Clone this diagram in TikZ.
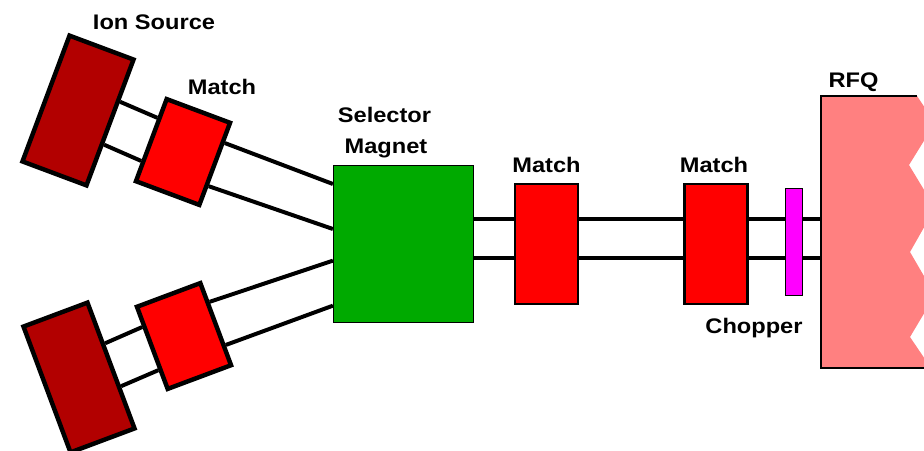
\documentclass[tikz,border=0pt]{standalone}
\usepackage{fontspec}
\setmainfont{Liberation Sans}[FakeStretch=1.12]
\usepackage{tikz}
\usetikzlibrary{calc}

\definecolor{srcred}{RGB}{178,0,0}
\definecolor{matchred}{RGB}{255,0,0}
\definecolor{selgreen}{RGB}{0,170,0}
\definecolor{chopmag}{RGB}{255,0,255}
\definecolor{rfqpink}{RGB}{255,128,128}

\tikzset{
  source/.style={draw, line width=3.8pt, fill=srcred, inner sep=0pt,
    minimum width=2.05cm, minimum height=4.03cm},
  smatch/.style={draw, line width=3.8pt, fill=matchred, inner sep=0pt,
    minimum width=2.03cm, minimum height=2.63cm},
  lmatch/.style={draw, line width=2.1pt, fill=matchred, inner sep=0pt,
    minimum width=1.88cm, minimum height=3.59cm},
  beam/.style={line width=3.4pt},
  lbl/.style={font=\bfseries\fontsize{18}{20}\selectfont, anchor=base, inner sep=0pt}
}

\begin{document}
\begin{tikzpicture}[x=0.03cm, y=-0.03cm]
\useasboundingbox (0,0) rectangle (924,451);
\clip (0,0) rectangle (924,451);

% RFQ
\fill[rfqpink] (821,96) -- (917,96) -- (935,123) -- (909,165) -- (935,208)
  -- (910,252) -- (935,295) -- (910,337) -- (931,368) -- (821,368) -- cycle;
\draw[line width=1.7pt] (917,96) -- (821,96) -- (821,368) -- (924,368);
\coordinate (rfq) at (821,244);

% sources and first matches
\node[source, rotate=-20.5] (isU) at (78,110.5) {};
\node[smatch, rotate=-20.5] (mU) at (183,152) {};
\node[source, rotate=20.5] (isL) at (79,377.5) {};
\node[smatch, rotate=20.5] (mL) at (184,336) {};

\node[draw, line width=1.3pt, fill=selgreen, inner sep=0pt,
  minimum width=4.19cm, minimum height=4.7cm] (sel) at (403.5,244) {};
\node[lmatch] (m2) at (546.5,244) {};
\node[lmatch] (m3) at (716,244) {};
\node[draw, line width=1.3pt, fill=chopmag, inner sep=0pt,
  minimum width=0.5cm, minimum height=3.2cm] (ch) at (794,242) {};

% beam lines
\draw[beam] ($(isU.east)!.33!(isU.north east)$) -- ($(mU.west)!.5!(mU.north west)$);
\draw[beam] ($(isU.east)!.33!(isU.south east)$) -- ($(mU.west)!.5!(mU.south west)$);
\draw[beam] ($(mU.east)!.5!(mU.north east)$) -- ([yshift=1.8cm]sel.west);
\draw[beam] ($(mU.east)!.5!(mU.south east)$) -- ([yshift=0.45cm]sel.west);

\draw[beam] ($(isL.east)!.33!(isL.north east)$) -- ($(mL.west)!.5!(mL.north west)$);
\draw[beam] ($(isL.east)!.33!(isL.south east)$) -- ($(mL.west)!.5!(mL.south west)$);
\draw[beam] ($(mL.east)!.5!(mL.north east)$) -- ([yshift=-0.5cm]sel.west);
\draw[beam] ($(mL.east)!.5!(mL.south east)$) -- ([yshift=-1.85cm]sel.west);

\coordinate (bt) at (0,219);
\coordinate (bb) at (0,258);
\draw[beam] (sel.east |- bt) -- (m2.west |- bt) (m2.east |- bt) -- (m3.west |- bt)
  (m3.east |- bt) -- (ch.west |- bt) (ch.east |- bt) -- (rfq |- bt);
\draw[beam] (sel.east |- bb) -- (m2.west |- bb) (m2.east |- bb) -- (m3.west |- bb)
  (m3.east |- bb) -- (ch.west |- bb) (ch.east |- bb) -- (rfq |- bb);

% labels
\node[lbl] (tsrc) at (154,30) {Ion Source};
\node[lbl] (tmU) at (222,94) {Match};
\node[lbl] (tsel) at (384.5,122) {Selector};
\node[lbl] (tmag) at (386,153) {Magnet};
\node[lbl] (tm2) at (546.5,172) {Match};
\node[lbl] (tm3) at (714,172) {Match};
\node[lbl] (tch) at (754,333) {Chopper};
\node[lbl] (trfq) at (853.5,88) {RFQ};
\end{tikzpicture}
\end{document}
